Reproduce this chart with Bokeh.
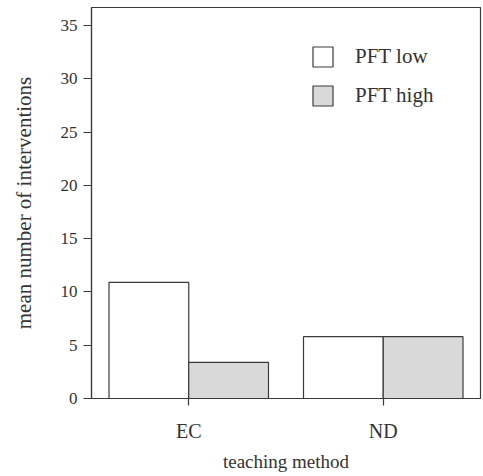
from bokeh.plotting import figure
from bokeh.models import ColumnDataSource, FactorRange, Range1d, FixedTicker, Legend, LegendItem
from bokeh.transform import dodge
from bokeh.embed import file_html
from bokeh.resources import INLINE

# ---- data ----
methods = ["EC", "ND"]
pft_low = [10.9, 5.8]
pft_high = [3.4, 5.8]
series_labels = ["PFT low", "PFT high"]
y_ticks = [0, 5, 10, 15, 20, 25, 30, 35]

FONT = "Liberation Serif"
TXT = "#333333"
LINE = "#3a3a3a"

src = ColumnDataSource(dict(method=methods, low=pft_low, high=pft_high))

p = figure(width=483, height=476,
           x_range=FactorRange(*methods), y_range=Range1d(0, 36.7),
           output_backend="svg", toolbar_location=None,
           min_border_left=91, min_border_right=3, min_border_top=7, min_border_bottom=78)

r1 = p.vbar(x=dodge("method", -0.205, range=p.x_range), top="low", width=0.41, source=src,
            fill_color="white", line_color=LINE, line_width=1.2)
r2 = p.vbar(x=dodge("method", 0.205, range=p.x_range), top="high", width=0.41, source=src,
            fill_color="#d9d9d9", line_color=LINE, line_width=1.2)

p.xgrid.grid_line_color = None
p.ygrid.grid_line_color = None
p.outline_line_color = LINE
p.outline_line_width = 1.2
p.background_fill_color = "white"
p.border_fill_color = "white"

for ax in (p.xaxis[0], p.yaxis[0]):
    ax.axis_line_color = LINE
    ax.axis_line_width = 1.2
    ax.major_tick_line_color = LINE
    ax.major_tick_line_width = 1.2
    ax.major_tick_in = 0
    ax.minor_tick_line_color = None
    ax.major_label_text_font = FONT
    ax.major_label_text_color = TXT
    ax.axis_label_text_font = FONT
    ax.axis_label_text_font_style = "normal"
    ax.axis_label_text_color = TXT

p.yaxis.ticker = FixedTicker(ticks=y_ticks)
p.yaxis.major_tick_out = 8
p.yaxis.major_label_standoff = 6
p.yaxis.major_label_text_font_size = "17px"
p.yaxis.axis_label = "mean number of interventions"
p.yaxis.axis_label_text_font_size = "21px"
p.yaxis.axis_label_standoff = 22

p.xaxis.major_tick_out = 7
p.xaxis.major_label_standoff = 14
p.xaxis.major_label_text_font_size = "20px"
p.xaxis.axis_label = "teaching method"
p.xaxis.axis_label_text_font_size = "19px"
p.xaxis.axis_label_standoff = 6

legend = Legend(items=[LegendItem(label=series_labels[0], renderers=[r1]),
                       LegendItem(label=series_labels[1], renderers=[r2])],
                location=(219, 290), background_fill_alpha=0, border_line_color=None,
                padding=0, margin=0, spacing=14, glyph_width=25, glyph_height=25,
                label_height=25, label_standoff=20,
                label_text_font=FONT, label_text_font_size="21px", label_text_color=TXT)
p.add_layout(legend)

open("out.html", "w").write(file_html(p, INLINE))
